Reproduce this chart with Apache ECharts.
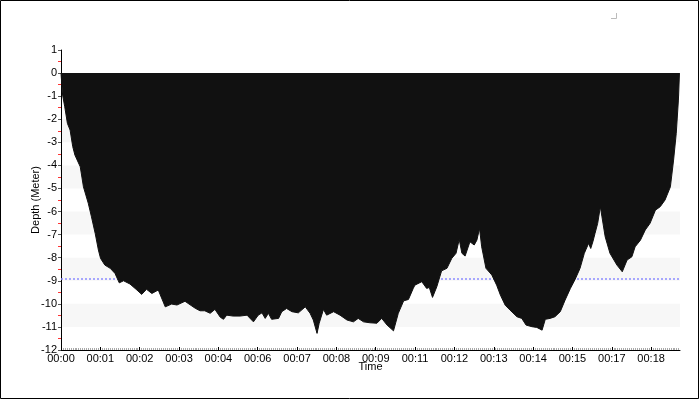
<!DOCTYPE html>
<html>
<head>
<meta charset="utf-8">
<script src="https://cdn.jsdelivr.net/npm/echarts@6/dist/echarts.min.js"></script>
<style>
html,body{margin:0;padding:0;background:#fff;}
#c{width:700px;height:400px;}
</style>
</head>
<body>
<div id="c"></div>
<script>
// elapsed time in seconds
var times = [0,3,7,12,17,22,26,36,42,51,57,64,70,74,82,92,101,109,117,129,142,151,160,170,182,195,207,217,232,251,260,269,279,288,298,304,310,322,335,348,360,369,376,382,388,394,407,413,422,432,444,457,466,472,479,483,491,497,510,522,535,547,556,566,578,591,600,610,622,631,641,650,659,662,675,684,689,695,703,712,722,731,739,745,750,756,765,773,778,783,787,795,806,815,822,831,840,853,862,870,881,890,900,906,915,924,934,943,953,962,971,979,987,991,995,999,1004,1009,1012,1018,1027,1040,1050,1059,1068,1074,1084,1093,1102,1112,1121,1130,1140,1146,1151,1155,1157];
// depth in meters
var depths = [0,-0.95,-1.46,-2.18,-2.47,-3.19,-3.55,-4.06,-4.93,-5.64,-6.23,-6.95,-7.67,-8.03,-8.32,-8.46,-8.68,-9.09,-9.00,-9.14,-9.40,-9.59,-9.37,-9.55,-9.40,-10.13,-10.01,-10.05,-9.89,-10.19,-10.30,-10.30,-10.41,-10.24,-10.58,-10.67,-10.49,-10.53,-10.53,-10.49,-10.78,-10.49,-10.39,-10.63,-10.41,-10.67,-10.63,-10.34,-10.20,-10.34,-10.39,-10.13,-10.41,-10.70,-11.28,-10.84,-10.24,-10.49,-10.34,-10.49,-10.70,-10.78,-10.63,-10.78,-10.82,-10.84,-10.63,-10.92,-11.17,-10.41,-9.87,-9.81,-9.33,-9.19,-9.04,-9.33,-9.29,-9.72,-9.26,-8.57,-8.46,-8.03,-7.81,-7.21,-7.81,-7.93,-7.31,-7.45,-7.24,-6.73,-7.53,-8.46,-8.75,-9.19,-9.62,-10.06,-10.27,-10.56,-10.63,-10.92,-10.99,-11.02,-11.14,-10.67,-10.63,-10.56,-10.34,-9.84,-9.33,-8.93,-8.46,-7.81,-7.38,-7.60,-7.31,-6.95,-6.51,-5.79,-6.23,-7.09,-7.81,-8.32,-8.61,-8.10,-7.96,-7.53,-7.24,-6.80,-6.51,-5.94,-5.79,-5.50,-4.93,-3.77,-2.61,-1.17,0];
var avgDepth = -8.93;
var xTickStep = 73.6;   // seconds between time ticks
var xTickCount = 16;
var xMax = 1158;
var yMin = -12, yMax = 1;

var xTicks = [];
for (var i = 0; i < xTickCount; i++) xTicks.push(+(i * xTickStep).toFixed(1));

var pts = times.map(function (t, i) { return [t, depths[i]]; });
function pad(n){ return (n < 10 ? '0' : '') + n; }

var font = 'Liberation Sans';
var chart = echarts.init(document.getElementById('c'), null, {renderer: 'canvas'});
chart.setOption({
  animation: false,
  backgroundColor: '#fff',
  grid: {left: 61, right: 20, top: 50, bottom: 50, containLabel: false},
  xAxis: {
    type: 'value', min: 0, max: xMax, interval: xTickStep,
    name: 'Time', nameLocation: 'middle', nameGap: 11, nameMoveOverlap: false,
    nameTextStyle: {fontFamily: font, fontSize: 11, color: '#000'},
    axisLine: {show: true, onZero: false, lineStyle: {color: '#000', width: 1}},
    axisTick: {show: true, inside: true, length: 3, lineStyle: {color: '#000'}, customValues: xTicks},
    minorTick: {show: true, splitNumber: 20, length: 2, lineStyle: {color: '#aaa'}},
    axisLabel: {fontFamily: font, fontSize: 11, color: '#000', margin: 3, customValues: xTicks,
      formatter: function (v) { return '00:' + pad(Math.floor(v / 60 + 1e-6)); }},
    splitLine: {show: false}
  },
  yAxis: {
    type: 'value', min: yMin, max: yMax, interval: 1,
    name: 'Depth (Meter)', nameLocation: 'middle', nameGap: 20, nameMoveOverlap: false,
    nameTextStyle: {fontFamily: font, fontSize: 11, color: '#000'},
    axisLine: {show: true, onZero: false, lineStyle: {color: '#000', width: 1}},
    axisTick: {show: true, length: 3, lineStyle: {color: '#555'}},
    minorTick: {show: true, splitNumber: 2, length: 3, lineStyle: {color: '#ff3333'}},
    axisLabel: {fontFamily: font, fontSize: 11, color: '#000', margin: 4},
    splitLine: {show: false},
    splitArea: {show: true, areaStyle: {color: ['rgba(255,255,255,0)', '#f7f7f7']}}
  },
  series: [
    {
      type: 'line', data: [], z: 1,
      markLine: {
        silent: true, symbol: 'none', z: 1,
        label: {show: false},
        lineStyle: {color: '#8c8cff', width: 1.5, type: [2, 2]},
        data: [{yAxis: avgDepth}]
      }
    },
    {
      type: 'line', data: pts, z: 3,
      showSymbol: false, symbol: 'none',
      lineStyle: {color: '#111', width: 1},
      areaStyle: {color: '#111', opacity: 1}
    }
  ],
  graphic: [
    {type: 'rect', shape: {x: 0.5, y: 0.5, width: 698, height: 398},
     style: {fill: 'none', stroke: '#000', lineWidth: 1}, z: 100},
    {type: 'polyline', shape: {points: [[611, 18.5], [616.5, 18.5], [616.5, 13]]},
     style: {fill: 'none', stroke: '#bbb', lineWidth: 1}, z: 100}
  ]
});
</script>
</body>
</html>
